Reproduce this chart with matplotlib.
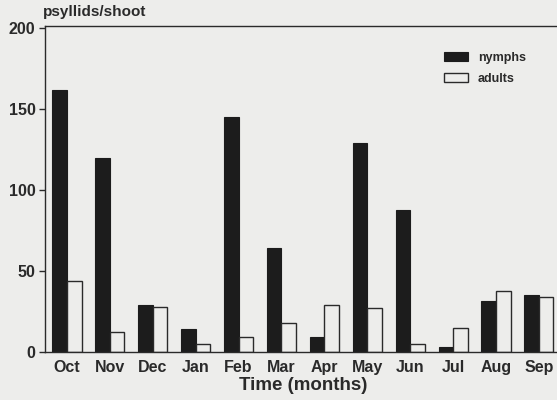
import matplotlib
matplotlib.use("Agg")
import matplotlib.pyplot as plt
import numpy as np

months = ["Oct", "Nov", "Dec", "Jan", "Feb", "Mar", "Apr", "May", "Jun", "Jul", "Aug", "Sep"]
nymphs = [162, 120, 29, 14, 145, 64, 9.5, 129, 88, 3, 31.5, 35]
adults = [44, 12.5, 28, 5, 9, 18, 29, 27.5, 5, 15, 38, 34]
yticks = [0, 50, 100, 150, 200]

plt.rcParams['font.family'] = ['Liberation Sans', 'DejaVu Sans']
bg = '#ededeb'
fig = plt.figure(figsize=(5.57, 4.0), dpi=100, facecolor=bg)
ax = fig.add_axes([0.081, 0.12, 0.925, 0.815], facecolor=bg)

x = np.arange(len(months))
w = 0.34
ax.bar(x - w / 2, nymphs, width=w, color='#1c1c1c', edgecolor='#1c1c1c', linewidth=0.8, label='nymphs')
ax.bar(x + w / 2, adults, width=w, color=bg, edgecolor='#2a2a2a', linewidth=1.0, label='adults')

ax.set_xlim(-0.51, 11.5)
ax.set_ylim(0, 201.5)
ax.set_yticks(yticks)
ax.set_yticklabels([str(v) for v in yticks], fontsize=11.5, fontweight='bold', color='#2a2a2a')
ax.set_xticks(x)
ax.set_xticklabels(months, fontsize=11.5, fontweight='bold', color='#2a2a2a')
ax.tick_params(axis='x', length=0, pad=6)
ax.tick_params(axis='y', direction='out', length=4, width=1, color='#2a2a2a', pad=3)
for s in ['left', 'bottom', 'top']:
    ax.spines[s].set_color('#2a2a2a')
    ax.spines[s].set_linewidth(1.0)
ax.spines['right'].set_visible(False)

ax.set_xlabel('Time (months)', fontsize=13.5, fontweight='bold', color='#2a2a2a', labelpad=1)
fig.text(0.077, 0.952, 'psyllids/shoot', fontsize=11, fontweight='bold', color='#2a2a2a', ha='left', va='bottom')

leg = ax.legend(loc='upper right', bbox_to_anchor=(0.955, 0.955), frameon=False,
                prop={'size': 9, 'weight': 'bold'}, handlelength=1.9, handleheight=0.8,
                labelspacing=0.7, handletextpad=0.8)
for t in leg.get_texts():
    t.set_color('#2a2a2a')

fig.savefig('out.png', dpi=100, facecolor=bg)
